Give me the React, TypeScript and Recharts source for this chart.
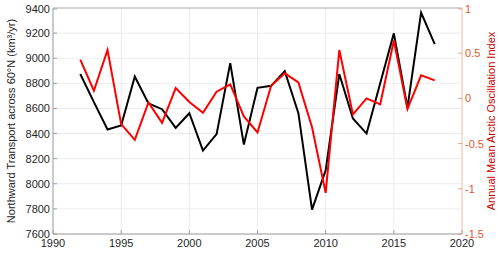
import { CartesianGrid, Line, LineChart, ReferenceLine, XAxis, YAxis } from 'recharts';

const years = [
  1992, 1993, 1994, 1995, 1996, 1997, 1998, 1999, 2000, 2001, 2002, 2003, 2004, 2005,
  2006, 2007, 2008, 2009, 2010, 2011, 2012, 2013, 2014, 2015, 2016, 2017, 2018,
];
const transport = [
  8874, 8650, 8432, 8464, 8855, 8640, 8594, 8445, 8562, 8264, 8395, 8961, 8312, 8764,
  8780, 8897, 8562, 7794, 8107, 8874, 8520, 8400, 8800, 9198, 8607, 9363, 9113,
];
const aoIndex = [
  0.43, 0.085, 0.535, -0.284, -0.458, -0.044, -0.27, 0.114, -0.04, -0.159, 0.074, 0.155,
  -0.2, -0.377, 0.14, 0.277, 0.177, -0.32, -1.045, 0.535, -0.177, 0.0, -0.066, 0.64,
  -0.118, 0.255, 0.2,
];
const xTicks = [1990, 1995, 2000, 2005, 2010, 2015, 2020];
const leftTicks = [7600, 7800, 8000, 8200, 8400, 8600, 8800, 9000, 9200, 9400];
const rightTicks = [-1.5, -1, -0.5, 0, 0.5, 1];

const data = years.map((year, i) => ({ year, transport: transport[i], ao: aoIndex[i] }));

const FONT = '"Liberation Sans", Arial, sans-serif';
const PLOT_LEFT = 53;
const PLOT_RIGHT = 462;
const PLOT_BOTTOM = 234;

const LeftTick = ({ y, payload }: any) => (
  <g>
    <line x1={PLOT_LEFT} x2={PLOT_LEFT + 4} y1={y} y2={y} stroke="#a0a0a0" />
    <text x={PLOT_LEFT - 3} y={y} dy={4} textAnchor="end" fontSize={11} fontFamily={FONT} fill="#262626">
      {payload.value}
    </text>
  </g>
);

const RightTick = ({ y, payload }: any) => (
  <g>
    <line x1={PLOT_RIGHT - 4} x2={PLOT_RIGHT} y1={y} y2={y} stroke="#f0a080" />
    <text x={PLOT_RIGHT + 3} y={y} dy={4} textAnchor="start" fontSize={11} fontFamily={FONT} fill="#e4572e">
      {payload.value}
    </text>
  </g>
);

const BottomTick = ({ x, payload }: any) => (
  <g>
    <line x1={x} x2={x} y1={PLOT_BOTTOM} y2={PLOT_BOTTOM - 4} stroke="#a0a0a0" />
    <text x={x} y={PLOT_BOTTOM + 13} textAnchor="middle" fontSize={11} fontFamily={FONT} fill="#262626">
      {payload.value}
    </text>
  </g>
);

const axisTitle = (text: string, cx: number, color: string) => ({ viewBox }: any) => {
  const cy = viewBox.y + viewBox.height / 2;
  return (
    <text
      x={cx}
      y={cy}
      transform={`rotate(-90 ${cx} ${cy})`}
      textAnchor="middle"
      dominantBaseline="central"
      fontSize={11}
      fontFamily={FONT}
      fill={color}
    >
      {text}
    </text>
  );
};

export default function App() {
  return (
    <div style={{ position: 'absolute', left: 0, top: 0, width: 500, height: 253, background: '#fff' }}>
      <LineChart width={500} height={253} data={data} margin={{ top: 8, right: 0, left: 0, bottom: 0 }}>
        <CartesianGrid yAxisId="t" stroke="#ececec" />
        <XAxis
          dataKey="year"
          type="number"
          domain={[1990, 2020]}
          ticks={xTicks}
          height={19}
          axisLine={{ stroke: '#a0a0a0' }}
          tickLine={false}
          tick={<BottomTick />}
        />
        <YAxis
          yAxisId="t"
          domain={[7600, 9400]}
          ticks={leftTicks}
          width={53}
          axisLine={{ stroke: '#a0a0a0' }}
          tickLine={false}
          tick={<LeftTick />}
          label={{ content: axisTitle('Northward Transport across 60°N (km³/yr)', 11, '#262626') }}
        />
        <YAxis
          yAxisId="ao"
          orientation="right"
          domain={[-1.5, 1]}
          ticks={rightTicks}
          width={38}
          axisLine={{ stroke: '#f5c2ad' }}
          tickLine={false}
          tick={<RightTick />}
          label={{ content: axisTitle('Annual Mean Arctic Oscillation Index', 491, '#cc0000') }}
        />
        <ReferenceLine yAxisId="t" y={9400} stroke="#c8c8c8" strokeWidth={1.5} />
        <Line
          yAxisId="t"
          type="linear"
          dataKey="transport"
          stroke="#000000"
          strokeWidth={2}
          dot={false}
          isAnimationActive={false}
        />
        <Line
          yAxisId="ao"
          type="linear"
          dataKey="ao"
          stroke="#ff0000"
          strokeWidth={2}
          dot={false}
          isAnimationActive={false}
        />
      </LineChart>
    </div>
  );
}
